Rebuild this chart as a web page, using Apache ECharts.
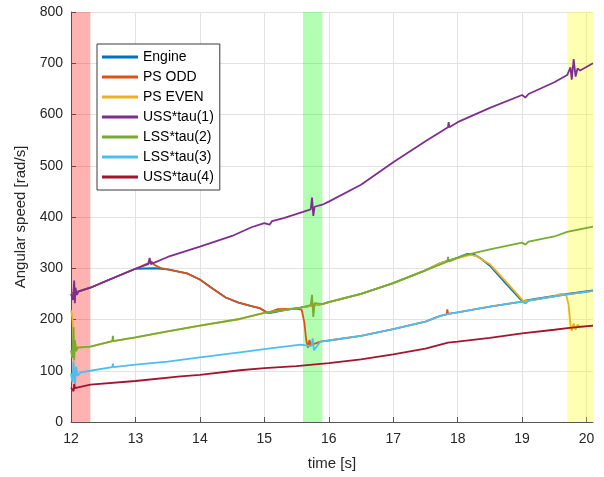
<!DOCTYPE html>
<html>
<head>
<meta charset="utf-8">
<script src="https://cdn.jsdelivr.net/npm/echarts@6/dist/echarts.min.js"></script>
<style>html,body{margin:0;padding:0;background:#fff}#c{width:604px;height:477px}</style>
</head>
<body>
<div id="c"></div>
<script>
// ---- data ----
const seriesNames = ['Engine','PS ODD','PS EVEN','USS*tau(1)','LSS*tau(2)','LSS*tau(3)','USS*tau(4)'];
const xTicks = [12,13,14,15,16,17,18,19,20];
const yTicks = [0,100,200,300,400,500,600,700,800];

const engineT = [12.0,12.3,12.6,13.0,13.3,13.5,13.8,14.0,14.2,14.4,14.6,14.8,14.93,15.05,15.1,15.3,15.56,15.9,16.0,16.5,17.0,17.5,17.73,18.0,18.15,18.25,18.35,18.5,18.75,19.0,19.2,19.5,19.7,20.1];
const engineV = [250,262,278,299,300,298,290,278,260,243,233,226,222,213,213,218,223,230,234,250,271,296,310,321,328,327,320,305,270,236,240,246,250,257];

const psOddT = [12.0,12.3,12.6,13.0,13.2,13.25,13.3,13.4,13.5,13.8,14.0,14.2,14.4,14.6,14.8,14.93,15.05,15.08,15.2,15.5,15.58,15.62,15.65,15.68,15.7,15.72,15.87,16.0,16.5,17.0,17.5,17.73,17.83,17.84,17.85,18.0,18.5,19.0,19.05,19.1,19.5,19.7,20.1];
const psOddV = [250,262,278,299,310,313,306,300,298,290,278,260,243,233,226,222,213,211,220,221,219,195,160,145,160,150,157,159,168,181,196,207,210,220,211,214,225,235,232,237,245,249,256];

const psEvenT = [12.0,12.02,12.04,12.05,12.07,12.1,12.3,12.65,13.0,13.5,14.0,14.62,15.0,15.56,15.9,16.0,16.5,17.0,17.5,17.73,18.0,18.2,18.3,18.5,18.77,19.02,19.1,19.5,19.6,19.68,19.72,19.75,19.77,19.8,19.83,19.86,19.9,20.1];
const psEvenV = [218,205,170,145,150,145,147,158,165,177,188,201,213,223,230,234,250,271,296,310,320,326,323,308,271,236,237,245,250,249,230,190,178,192,180,190,186,188];

const uss1T = [12.0,12.03,12.05,12.06,12.07,12.09,12.12,12.3,12.6,13.0,13.2,13.22,13.24,13.5,14.0,14.5,14.8,15.0,15.08,15.12,15.3,15.6,15.72,15.74,15.76,15.78,15.9,16.0,16.5,17.0,17.5,17.85,17.86,17.87,18.0,18.5,19.0,19.05,19.1,19.5,19.7,19.75,19.77,19.8,19.83,19.86,19.9,20.1];
const uss1V = [250,238,276,232,262,248,255,262,278,299,308,320,308,322,342,363,380,388,385,392,398,410,415,438,402,420,424,430,463,507,548,575,585,575,585,613,638,633,640,663,677,692,668,708,674,690,686,700];

const lss2T = [12.0,12.02,12.04,12.05,12.06,12.08,12.1,12.3,12.64,12.65,12.66,13.0,13.5,14.0,14.62,15.0,15.56,15.72,15.74,15.76,15.78,15.9,16.0,16.5,17.0,17.5,17.84,17.85,17.86,18.0,18.1,18.5,19.0,19.05,19.1,19.5,19.7,20.1];
const lss2V = [140,125,185,120,160,138,145,147,158,168,158,165,177,188,201,213,223,228,248,205,232,230,234,250,271,296,313,322,313,320,325,337,350,346,352,362,371,381];

const lss3T = [12.0,12.02,12.04,12.06,12.08,12.1,12.15,12.3,12.64,12.65,12.66,13.0,13.5,14.0,14.62,15.0,15.56,15.73,15.75,15.77,15.87,16.0,16.5,17.0,17.5,17.73,17.85,18.0,18.5,19.0,19.05,19.1,19.5,19.7,20.1];
const lss3V = [95,78,118,70,108,90,97,100,107,114,107,112,118,126,136,142,151,148,163,140,157,159,168,181,196,207,211,214,225,235,232,237,245,249,256];

const uss4T = [12.0,12.04,12.05,12.06,12.3,13.0,13.7,14.0,14.62,15.0,15.5,15.75,16.0,16.5,17.0,17.5,17.85,18.0,18.5,19.0,19.5,19.7,20.1];
const uss4V = [67,60,74,66,73,80,89,92,101,105,109,112,115,122,132,143,155,157,164,173,180,183,188];

const bandStarts = [12.0, 15.6, 19.7];
const bandEnds = [12.3, 15.9, 20.1];

// ---- chart ----
const colors = ['#0072BD','#D95319','#EDB120','#7E2F8E','#77AC30','#4DBEEE','#A2142F'];
const bandColors = ['rgba(255,0,0,0.3)','rgba(0,255,0,0.3)','rgba(255,255,0,0.3)'];
const FONT = '"Liberation Sans", Arial, sans-serif';
const zip = (t, v) => t.map((x, i) => [x, v[i]]);
const allT = [engineT, psOddT, psEvenT, uss1T, lss2T, lss3T, uss4T];
const allV = [engineV, psOddV, psEvenV, uss1V, lss2V, lss3V, uss4V];

const series = seriesNames.map((n, i) => ({
  name: n, type: 'line', data: zip(allT[i], allV[i]),
  symbol: 'none', showSymbol: false, smooth: false,
  lineStyle: { width: 1.8, color: colors[i] }, itemStyle: { color: colors[i] },
  z: 2, animation: false
}));
series.push({
  name: 'bands', type: 'line', data: [], z: 5, silent: true, animation: false,
  markArea: {
    silent: true,
    data: bandStarts.map((s, i) => [{ xAxis: s, itemStyle: { color: bandColors[i] } }, { xAxis: bandEnds[i] }])
  }
});

const chart = echarts.init(document.getElementById('c'), null, { renderer: 'canvas' });
chart.setOption({
  animation: false,
  backgroundColor: '#ffffff',
  textStyle: { fontFamily: FONT },
  grid: { left: 71, right: 11, top: 12, bottom: 55, containLabel: false },
  legend: {
    data: seriesNames.map(n => ({ name: n, icon: 'rect' })),
    orient: 'vertical', left: 97, top: 44,
    itemWidth: 36, itemHeight: 3, itemGap: 4,
    padding: [5, 6, 5, 5],
    borderColor: '#3a3a3a', borderWidth: 1, backgroundColor: '#ffffff',
    textStyle: { fontFamily: FONT, fontSize: 14, color: '#000', lineHeight: 16 }
  },
  xAxis: {
    type: 'value', min: 12, max: 20.1, interval: 1,
    name: 'time [s]', nameLocation: 'middle', nameGap: 34,
    nameTextStyle: { fontFamily: FONT, fontSize: 15, color: '#262626' },
    axisLine: { lineStyle: { color: '#555', width: 1 } },
    axisTick: { inside: true, length: 5, lineStyle: { color: '#555' } },
    axisLabel: { fontFamily: FONT, fontSize: 14, color: '#262626', margin: 10, showMaxLabel: false,
      formatter: v => (xTicks.indexOf(v) >= 0 ? String(v) : '') },
    splitLine: { show: true, showMaxLine: false, lineStyle: { color: '#e2e2e2', width: 1 } }
  },
  yAxis: {
    type: 'value', min: 0, max: 800, interval: 100,
    name: 'Angular speed [rad/s]', nameLocation: 'middle', nameGap: 38,
    nameTextStyle: { fontFamily: FONT, fontSize: 15, color: '#262626' },
    axisLine: { show: true, lineStyle: { color: '#555', width: 1 } },
    axisTick: { show: true, inside: true, length: 5, lineStyle: { color: '#555' } },
    axisLabel: { fontFamily: FONT, fontSize: 14, color: '#262626', margin: 8,
      formatter: v => (yTicks.indexOf(v) >= 0 ? String(v) : '') },
    splitLine: { show: true, lineStyle: { color: '#e2e2e2', width: 1 } }
  },
  series: series
});
</script>
</body>
</html>
